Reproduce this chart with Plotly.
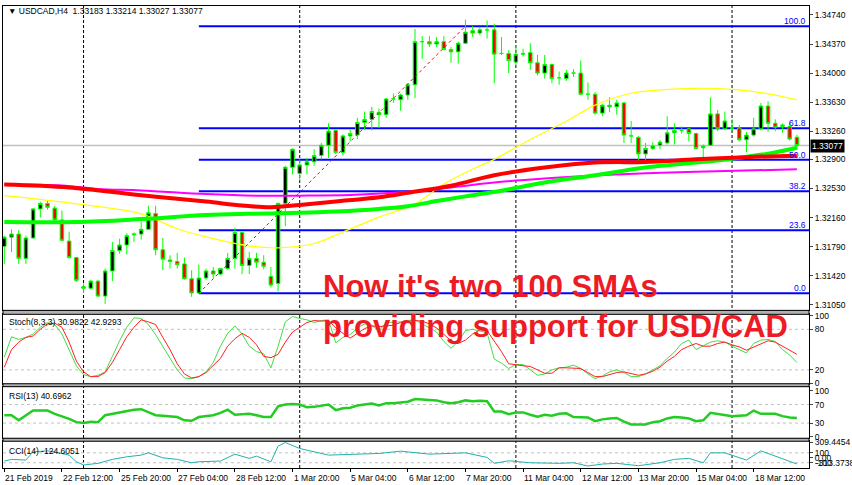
import plotly.graph_objects as go
from plotly.subplots import make_subplots

# ---------------- price data (H4 bars, 21 Feb 04:00 .. 19 Mar 12:00) ----------------
opens = [1.3179,1.3191,1.3195,1.3164,1.3190,1.3227,1.3234,1.3228,1.3213,1.3186,
         1.3165,1.3128,1.3126,1.3135,1.3116,1.3148,1.3174,1.3181,1.3194,1.3195,
         1.3201,1.3221,1.3175,1.3162,1.3160,1.3157,1.3138,1.3120,1.3139,1.3148,
         1.3144,1.3151,1.3164,1.3197,1.3155,1.3164,1.3159,1.3141,1.3132,1.3234,
         1.3280,1.3272,1.3283,1.3287,1.3295,1.3308,1.3327,1.3299,1.3320,1.3321,
         1.3337,1.3341,1.3350,1.3347,1.3367,1.3366,1.3372,1.3385,1.3440,1.3440,
         1.3437,1.3440,1.3430,1.3427,1.3438,1.3454,1.3451,1.3455,1.3455,1.3425,
         1.3425,1.3414,1.3424,1.3426,1.3413,1.3400,1.3411,1.3394,1.3393,1.3400,
         1.3400,1.3373,1.3373,1.3349,1.3357,1.3357,1.3362,1.3320,1.3318,1.3297,
         1.3304,1.3308,1.3311,1.3324,1.3327,1.3329,1.3323,1.3305,1.3308,1.3348,
         1.3329,1.3330,1.3330,1.3315,1.3321,1.3329,1.3358,1.3336,1.3332,1.3332,
         1.33183]
highs = [1.3193,1.3201,1.3200,1.3193,1.3228,1.3236,1.3238,1.3231,1.3225,1.3198,
         1.3166,1.3132,1.3137,1.3137,1.3151,1.3185,1.3189,1.3196,1.3197,1.3211,
         1.3231,1.3231,1.3190,1.3168,1.3171,1.3165,1.3149,1.3156,1.3151,1.3153,
         1.3152,1.3171,1.3203,1.3198,1.3172,1.3171,1.3168,1.3153,1.3235,1.3282,
         1.3304,1.3290,1.3292,1.3303,1.3311,1.3336,1.3328,1.3322,1.3328,1.3343,
         1.3351,1.3357,1.3355,1.3368,1.3374,1.3374,1.3387,1.3456,1.3447,1.3447,
         1.3446,1.3447,1.3433,1.3440,1.3468,1.3460,1.3459,1.3467,1.3463,1.3446,
         1.3429,1.3435,1.3431,1.3438,1.3423,1.3423,1.3412,1.3402,1.3404,1.3405,
         1.3416,1.3388,1.3376,1.3361,1.3369,1.3366,1.3363,1.3339,1.3320,1.3311,
         1.3312,1.3315,1.3345,1.3336,1.3332,1.3330,1.3324,1.3309,1.3369,1.3353,
         1.3351,1.3341,1.3334,1.3325,1.3343,1.3362,1.3364,1.3341,1.3336,1.3338,
         1.33214]
lows = [1.3157,1.3172,1.3157,1.3157,1.3189,1.3216,1.3226,1.3211,1.3186,1.3164,
        1.3134,1.3120,1.3124,1.3115,1.3106,1.3135,1.3170,1.3169,1.3185,1.3188,
        1.3200,1.3168,1.3149,1.3151,1.3151,1.3137,1.3115,1.3120,1.3137,1.3139,
        1.3143,1.3150,1.3151,1.3144,1.3144,1.3152,1.3150,1.3127,1.3122,1.3205,
        1.3271,1.3263,1.3271,1.3282,1.3290,1.3292,1.3297,1.3295,1.3313,1.3316,
        1.3328,1.3327,1.3330,1.3343,1.3362,1.3352,1.3366,1.3368,1.3418,1.3433,
        1.3433,1.3429,1.3413,1.3412,1.3437,1.3446,1.3448,1.3444,1.3387,1.3423,
        1.3400,1.3410,1.3421,1.3404,1.3397,1.3393,1.3387,1.3385,1.3390,1.3395,
        1.3372,1.3366,1.3347,1.3345,1.3350,1.3347,1.3311,1.3311,1.3286,1.3284,
        1.3302,1.3303,1.3309,1.3309,1.3323,1.3313,1.3303,1.3288,1.3307,1.3326,
        1.3328,1.3327,1.3313,1.3299,1.3319,1.3327,1.3325,1.3326,1.3324,1.3314,
        1.33027]
closes = [1.3191,1.3195,1.3164,1.3190,1.3227,1.3234,1.3229,1.3213,1.3187,1.3165,
          1.3136,1.3126,1.3135,1.3116,1.3148,1.3174,1.3181,1.3193,1.3195,1.3201,
          1.3222,1.3175,1.3163,1.3160,1.3156,1.3138,1.3120,1.3139,1.3148,1.3144,
          1.3151,1.3164,1.3197,1.3155,1.3164,1.3159,1.3154,1.3130,1.3234,1.3280,
          1.3303,1.3283,1.3287,1.3295,1.3308,1.3326,1.3299,1.3320,1.3323,1.3337,
          1.3341,1.3351,1.3347,1.3367,1.3367,1.3372,1.3385,1.3440,1.3440,1.3437,
          1.3440,1.3430,1.3427,1.3438,1.3452,1.3451,1.3455,1.3455,1.3424,1.3425,
          1.3416,1.3424,1.3425,1.3413,1.3400,1.3411,1.3393,1.3394,1.3400,1.3400,
          1.3373,1.3373,1.3349,1.3359,1.3359,1.3362,1.3321,1.3320,1.3297,1.3304,
          1.3307,1.3312,1.3324,1.3327,1.3327,1.3323,1.3304,1.3307,1.3348,1.3329,
          1.3339,1.3330,1.3315,1.3321,1.3329,1.3358,1.3336,1.3331,1.3334,1.3316,
          1.33077]

# time-axis labels (every 8th bar)
tick_bars = [0, 8, 16, 24, 32, 40, 48, 56, 64, 72, 80, 88, 96, 104]
tick_text = ["21 Feb 2019", "22 Feb 12:00", "25 Feb 20:00", "27 Feb 04:00", "28 Feb 12:00",
             "1 Mar 20:00", "5 Mar 04:00", "6 Mar 12:00", "7 Mar 20:00", "11 Mar 04:00",
             "12 Mar 12:00", "13 Mar 20:00", "15 Mar 04:00", "18 Mar 12:00"]
week_start_bars = [11, 41, 71, 101]

# moving averages (read at knots)
red_ma_bars = [0, 9, 19, 28, 33, 37, 41, 46, 52, 56, 62, 68, 75, 82, 89, 96, 103, 110]
red_ma_vals = [1.32582, 1.32544, 1.32443, 1.32364, 1.32313, 1.32292, 1.32321, 1.32364, 1.32418,
               1.32475, 1.32566, 1.32699, 1.32797, 1.32860, 1.32868, 1.32901, 1.32929, 1.32948]
green_ma_bars = [0, 10, 19, 28, 34, 41, 46, 52, 56, 60, 64, 69, 75, 82, 89, 96, 101, 106, 110]
green_ma_vals = [1.32102, 1.32102, 1.32140, 1.32191, 1.32207, 1.32220, 1.32237, 1.32270, 1.32304,
                 1.32370, 1.32430, 1.32502, 1.32607, 1.32699, 1.32797, 1.32860, 1.32910, 1.32973, 1.33049]
magenta_ma_bars = [0, 8, 13, 19, 28, 35, 41, 48, 55, 62, 68, 75, 82, 89, 96, 110]
magenta_ma_vals = [1.32582, 1.32569, 1.32523, 1.32506, 1.32460, 1.32439, 1.32439, 1.32447,
                   1.32481, 1.32544, 1.32607, 1.32658, 1.32696, 1.32725, 1.32742, 1.32775]
yellow_ma_bars = [0, 9, 19, 24, 29, 34, 38, 43, 47, 52, 57, 61, 66, 68, 73, 78, 82, 87, 91, 96, 101, 105, 110]
yellow_ma_vals = [1.32439, 1.32346, 1.32207, 1.32018, 1.31892, 1.31800, 1.31774, 1.31829, 1.31976,
                  1.32166, 1.32333, 1.32586, 1.32818, 1.32901, 1.33154, 1.33386, 1.33592, 1.33743,
                  1.33785, 1.33806, 1.33793, 1.33752, 1.33658]

# Fibonacci retracement
fib_low, fib_high = 1.31196, 1.34597
fib_low_bar, fib_high_bar = 27, 64
fib_levels = [0.0, 23.6, 38.2, 50.0, 61.8, 100.0]

# indicators (one value per bar)
stoch_main = [39,69,65,68,73,83,90,87,73,50,26,13,10,12,17,40,63,83,97,96,87,72,55,37,20,8,7,10,17,31,
              55,74,85,73,55,47,44,23,55,91,99,96,
              94,90,93,94,60,68,72,82,88,86,78,90,90,91,93,94,88,82,76,62,52,62,78,80,78,75,36,30,22,28,
              28,20,12,14,20,
              23,24,27,22,14,7,11,17,20,16,10,10,14,20,26,37,46,59,64,50,55,61,63,61,55,50,45,59,64,65,
              62,50,42,31]
stoch_signal = [24,50,61,68,70,80,88,89,83,61,33,17,10,10,16,31,50,69,83,94,91,87,68,50,29,14,8,10,16,26,
                37,55,66,74,68,57,40,38,43,61,76,83,
                90,93,92,93,82,74,67,74,81,85,84,85,86,90,91,93,92,88,82,73,63,59,64,73,79,78,63,47,29,27,
                26,25,20,15,15,
                23,23,23,22,16,10,10,13,16,17,14,12,14,18,24,33,40,50,55,59,55,55,59,61,57,54,49,54,59,63,
                61,55,50,43]
rsi = [47,47,36,47,57,57,57,50,45,39,32,30,33,32,47,50,54,57,59,60,54,47,46,45,43,36,35,43,45,47,
       52,59,48,49,50,47,43,43,66,70,71,70,
       64,65,67,70,58,62,63,68,70,72,68,73,73,74,76,82,81,79,79,75,73,75,79,77,78,77,55,55,49,53,
       53,48,44,48,46,
       50,51,43,42,42,34,38,40,41,33,27,27,27,32,34,40,43,42,40,34,36,52,50,47,45,46,47,57,50,50,
       50,45,42,41]
cci_bars = [0,1,3,4,6,7,9,10,11,12,13,15,17,19,20,22,24,26,27,30,32,34,35,37,38,39,41,45,48,52,
            55,59,64,67,68,70,73,77,79,81,83,85,88,91,93,95,97,98,100,103,105,107,108,110]
cci_vals = [-66,-32,-46,120,140,120,54,-80,-146,-126,-112,-32,20,54,100,0,-32,-100,-80,-66,
            74,-12,34,-80,234,309,188,54,74,88,134,74,100,8,-112,-60,-100,-112,-100,-166,
            -126,-112,-160,-100,-32,-12,-100,100,100,-46,140,34,-12,-125]
cci_max, cci_min = 309.4454, -313.3738

title_text = "USDCAD,H4  1.33183 1.33214 1.33027 1.33077"
stoch_label = "Stoch(8,3,3) 30.9822 42.9293"
rsi_label = "RSI(13) 40.6962"
cci_label = "CCI(14) -124.6051"
headline = ["Now it's two 100 SMAs", "providing support for USD/CAD"]

# ---------------- figure ----------------
bars = list(range(len(opens)))
FONT = "Liberation Sans, Arial, sans-serif"
x_range = [-0.18, 111.68]

fig = make_subplots(rows=4, cols=1, shared_xaxes=True, vertical_spacing=0.0)

fig.add_trace(go.Candlestick(
    x=bars, open=opens, high=highs, low=lows, close=closes,
    increasing=dict(line=dict(color="#00ff00", width=1), fillcolor="#000000"),
    decreasing=dict(line=dict(color="#00ff00", width=1), fillcolor="#ff0000"),
    whiskerwidth=0, showlegend=False, hoverinfo="skip"), row=1, col=1)

for bx, vals, col, w in [(yellow_ma_bars, yellow_ma_vals, "#ffff00", 1.2),
                         (magenta_ma_bars, magenta_ma_vals, "#ff00ff", 2),
                         (green_ma_bars, green_ma_vals, "#00ff00", 4),
                         (red_ma_bars, red_ma_vals, "#ff0000", 4)]:
    fig.add_trace(go.Scatter(x=bx, y=vals, mode="lines", line=dict(color=col, width=w, shape="spline"),
                             showlegend=False, hoverinfo="skip"), row=1, col=1)

fig.add_trace(go.Scatter(x=[fib_low_bar, fib_high_bar], y=[fib_low, fib_high], mode="lines",
                         line=dict(color="#ff0000", width=1, dash="dot"),
                         showlegend=False, hoverinfo="skip"), row=1, col=1)

fig.add_trace(go.Scatter(x=bars, y=stoch_main, mode="lines", line=dict(color="#44dd44", width=1),
                         showlegend=False, hoverinfo="skip"), row=2, col=1)
fig.add_trace(go.Scatter(x=bars, y=stoch_signal, mode="lines", line=dict(color="#ff2020", width=1),
                         showlegend=False, hoverinfo="skip"), row=2, col=1)
fig.add_trace(go.Scatter(x=bars, y=rsi, mode="lines", line=dict(color="#22cc22", width=2.5),
                         showlegend=False, hoverinfo="skip"), row=3, col=1)
fig.add_trace(go.Scatter(x=cci_bars, y=cci_vals, mode="lines", line=dict(color="#20b2aa", width=1),
                         showlegend=False, hoverinfo="skip"), row=4, col=1)

axis_common = dict(showgrid=False, zeroline=False, showline=True, linecolor="#000000", linewidth=1,
                   mirror=True)
fig.update_xaxes(range=x_range, showticklabels=False, ticks="", rangeslider_visible=False, **axis_common)
fig.update_xaxes(ticks="outside", ticklen=3, tickcolor="#000000", tickvals=tick_bars, row=4, col=1)

ytick_font = dict(family=FONT, size=8.5, color="#000000")
price_ticks = [1.3474, 1.3437, 1.3400, 1.3363, 1.3326, 1.3290, 1.3253, 1.3216, 1.3179, 1.3142, 1.3105]
fig.update_layout(
    yaxis=dict(domain=[0.3412, 1.0], range=[1.30978, 1.34854], side="right", tickvals=price_ticks,
               tickformat=".5f", ticks="outside", ticklen=3, tickfont=ytick_font, **axis_common),
    yaxis2=dict(domain=[0.1824, 0.3326], range=[-0.5, 102.1], side="right", tickvals=[0, 20, 80, 100],
                ticks="outside", ticklen=3, tickfont=ytick_font, **axis_common),
    yaxis3=dict(domain=[0.0644, 0.1760], range=[-2.8, 108.6], side="right", tickvals=[0, 30, 70, 100],
                ticks="outside", ticklen=3, tickfont=ytick_font, **axis_common),
    yaxis4=dict(domain=[0.0, 0.0579], range=[-206, 334], side="right",
                tickvals=[cci_max, 100, 0, -100],
                ticktext=[f"{cci_max:.4f}", "100", "0.00", "-100"],
                ticks="outside", ticklen=3, tickfont=ytick_font, **axis_common),
)

shapes = []
# panel separators
for y0, y1 in [(0.3326, 0.3412), (0.1760, 0.1824), (0.0579, 0.0644)]:
    shapes.append(dict(type="rect", xref="paper", yref="paper", x0=0, x1=1, y0=y0, y1=y1,
                       fillcolor="#b0b0b0", line=dict(color="#000000", width=1), layer="above"))
# weekly separators
for b in week_start_bars:
    shapes.append(dict(type="line", xref="x", yref="paper", x0=b, x1=b, y0=0, y1=1,
                       line=dict(color="#000000", width=1, dash="3px,2px"), layer="below"))
# current price line
shapes.append(dict(type="line", xref="paper", yref="y", x0=0, x1=1, y0=closes[-1], y1=closes[-1],
                   line=dict(color="#c0c0c0", width=1.5), layer="below"))
# fib levels
for lv in fib_levels:
    p = fib_low + lv / 100.0 * (fib_high - fib_low)
    shapes.append(dict(type="line", xref="x", yref="y", x0=fib_low_bar, x1=x_range[1], y0=p, y1=p,
                       line=dict(color="#0000ff", width=2), layer="below"))
# indicator levels
for yref, lv in [("y2", 80), ("y2", 20), ("y3", 70), ("y3", 30), ("y4", 100), ("y4", -100)]:
    shapes.append(dict(type="line", xref="paper", yref=yref, x0=0, x1=1, y0=lv, y1=lv,
                       line=dict(color="#c0c0c0", width=1, dash="3px,3px"), layer="below"))

annotations = []
small = dict(family=FONT, size=8.5, color="#000000")
annotations.append(dict(text="\u25BC " + title_text, xref="paper", yref="paper", x=0.004, y=0.989,
                        xanchor="left", yanchor="middle", showarrow=False, font=small))
for txt, yp in [(stoch_label, 0.3155), (rsi_label, 0.1567), (cci_label, 0.0365)]:
    annotations.append(dict(text=txt, xref="paper", yref="paper", x=0.005, y=yp, xanchor="left",
                            yanchor="middle", showarrow=False, font=small))
for b, t in zip(tick_bars, tick_text):
    annotations.append(dict(text=t, xref="x4", yref="paper", x=b, y=0, xanchor="left", yanchor="top",
                            xshift=-1, yshift=-3, showarrow=False, font=small))
for lv in fib_levels:
    p = fib_low + lv / 100.0 * (fib_high - fib_low)
    annotations.append(dict(text=f"{lv:.1f}", xref="paper", yref="y", x=0.999, y=p, xanchor="right",
                            yanchor="bottom", yshift=-2, showarrow=False,
                            font=dict(family=FONT, size=8.5, color="#0000ff")))
annotations.append(dict(text=f"{closes[-1]:.5f}", xref="paper", yref="y", x=1.0, y=closes[-1],
                        xanchor="left", yanchor="middle", xshift=1, showarrow=False,
                        bgcolor="#000000", borderpad=1, font=dict(family=FONT, size=8.5, color="#ffffff")))
# CCI window minimum, printed by the terminal at the bottom of its scale
annotations.append(dict(text=f"{cci_min:.4f}", xref="paper", yref="y4", x=1.0, y=-110,
                        xanchor="left", yanchor="middle", xshift=5, showarrow=False, font=small))
for txt, yp in [(headline[0], 0.3927), (headline[1], 0.3069)]:
    annotations.append(dict(text="<b>" + txt + "</b>", xref="paper", yref="paper", x=0.3946, y=yp,
                            xanchor="left", yanchor="middle", showarrow=False,
                            font=dict(family=FONT, size=31, color="#ed1c24")))

fig.update_layout(
    width=852, height=485, margin=dict(l=2, r=39, t=2, b=17),
    paper_bgcolor="#ffffff", plot_bgcolor="#ffffff", showlegend=False,
    shapes=shapes, annotations=annotations, hovermode=False,
)

fig.write_html("out.html", config={"displayModeBar": False},
               post_script="document.body.style.margin='0px';document.body.style.overflow='hidden';")
